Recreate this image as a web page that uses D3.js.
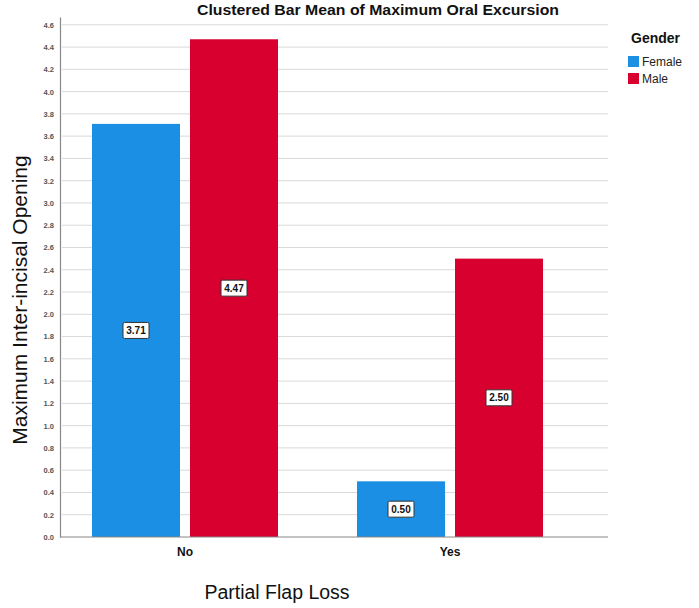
<!DOCTYPE html>
<html>
<head>
<meta charset="utf-8">
<script src="https://cdn.jsdelivr.net/npm/d3@7"></script>
<style>
  body { margin: 0; background: #fff; }
  svg text { font-family: "Liberation Sans", Arial, sans-serif; }
</style>
</head>
<body>
<div id="chart"></div>
<script>
// data
const categories = ['No', 'Yes'];
const genders = ['Female', 'Male'];
const femaleMeans = [3.71, 0.50];
const maleMeans = [4.47, 2.50];
const yTicks = d3.range(0, 4.61, 0.2);

const colors = { Female: '#1a8fe3', Male: '#d7002f' };

const rows = categories.map((c, i) => ({
  cat: c,
  values: [
    { gender: 'Female', value: femaleMeans[i] },
    { gender: 'Male', value: maleMeans[i] }
  ]
}));

const width = 699, height = 608;

const svg = d3.select('#chart')
  .append('svg')
  .attr('width', width)
  .attr('height', height);

// scales
const yScale = d3.scaleLinear()
  .domain([0, 4.67])
  .range([537, 17]);

const x0 = d3.scaleBand()
  .domain(categories)
  .range([52.5, 582.5]);

const groupW = 186;
const x1 = d3.scaleBand()
  .domain(genders)
  .range([0, groupW])
  .paddingInner(10 / 98);

const plotLeft = 60, plotRight = 608;

// gridlines
svg.append('g')
  .selectAll('line')
  .data(yTicks.filter(t => t > 0))
  .join('line')
  .attr('x1', plotLeft + 2)
  .attr('x2', plotRight)
  .attr('y1', d => yScale(d))
  .attr('y2', d => yScale(d))
  .attr('stroke', '#d9d9d9')
  .attr('stroke-width', 1);

// bars
const groups = svg.append('g')
  .selectAll('g')
  .data(rows)
  .join('g')
  .attr('transform', d => `translate(${x0(d.cat) + (x0.bandwidth() - groupW) / 2},0)`);

groups.selectAll('rect')
  .data(d => d.values)
  .join('rect')
  .attr('x', d => x1(d.gender))
  .attr('width', x1.bandwidth())
  .attr('y', d => yScale(d.value))
  .attr('height', d => yScale(0) - yScale(d.value))
  .attr('fill', d => colors[d.gender]);

// value labels
const lab = groups.selectAll('g.lab')
  .data(d => d.values)
  .join('g')
  .attr('class', 'lab')
  .attr('transform', d => `translate(${x1(d.gender) + x1.bandwidth() / 2},${yScale(d.value / 2)})`);

lab.append('rect')
  .attr('x', -13)
  .attr('y', -8)
  .attr('width', 26)
  .attr('height', 16)
  .attr('rx', 1.5)
  .attr('fill', '#fff')
  .attr('stroke', '#333')
  .attr('stroke-width', 1);

lab.append('text')
  .attr('text-anchor', 'middle')
  .attr('dy', '0.35em')
  .attr('font-size', 10)
  .attr('font-weight', 'bold')
  .attr('fill', '#111')
  .text(d => d.value.toFixed(2));

// y axis
const yAxis = d3.axisLeft(yScale)
  .tickValues(yTicks)
  .tickSize(0)
  .tickPadding(6)
  .tickFormat(d3.format('.1f'));

const yAxisG = svg.append('g')
  .attr('transform', `translate(${plotLeft},0)`)
  .call(yAxis);
yAxisG.select('.domain').attr('stroke', '#888').attr('stroke-width', 1.2);
yAxisG.selectAll('text')
  .attr('font-size', 7.5)
  .attr('font-weight', 'bold')
  .attr('fill', '#555')
  .style('font-family', '"Liberation Sans", Arial, sans-serif');

// baseline
svg.append('line')
  .attr('x1', plotLeft)
  .attr('x2', plotRight)
  .attr('y1', yScale(0))
  .attr('y2', yScale(0))
  .attr('stroke', '#888')
  .attr('stroke-width', 1.2);

// x axis labels
svg.append('g')
  .selectAll('text')
  .data(categories)
  .join('text')
  .attr('x', d => x0(d) + x0.bandwidth() / 2)
  .attr('y', 556)
  .attr('text-anchor', 'middle')
  .attr('font-size', 12)
  .attr('font-weight', 'bold')
  .attr('fill', '#111')
  .text(d => d);

// titles
svg.append('text')
  .attr('x', 378)
  .attr('y', 15)
  .attr('text-anchor', 'middle')
  .attr('font-size', 14)
  .attr('font-weight', 'bold')
  .attr('fill', '#111')
  .attr('textLength', 362)
  .attr('lengthAdjust', 'spacingAndGlyphs')
  .text('Clustered Bar Mean of Maximum Oral Excursion');

svg.append('text')
  .attr('x', 277)
  .attr('y', 599)
  .attr('text-anchor', 'middle')
  .attr('font-size', 19.5)
  .attr('fill', '#111')
  .text('Partial Flap Loss');

svg.append('text')
  .attr('transform', 'rotate(-90)')
  .attr('x', -300)
  .attr('y', 27)
  .attr('text-anchor', 'middle')
  .attr('font-size', 21)
  .attr('fill', '#111')
  .text('Maximum Inter-incisal Opening');

// legend
const legend = svg.append('g').attr('transform', 'translate(628,0)');
legend.append('text')
  .attr('x', 3)
  .attr('y', 43)
  .attr('font-size', 14)
  .attr('font-weight', 'bold')
  .attr('fill', '#111')
  .text('Gender');

const items = legend.selectAll('g.item')
  .data(genders)
  .join('g')
  .attr('class', 'item')
  .attr('transform', (d, i) => `translate(0,${56 + i * 17})`);

items.append('rect')
  .attr('width', 11)
  .attr('height', 11)
  .attr('fill', d => colors[d]);

items.append('text')
  .attr('x', 14)
  .attr('y', 10)
  .attr('font-size', 12)
  .attr('fill', '#222')
  .text(d => d);
</script>
</body>
</html>
